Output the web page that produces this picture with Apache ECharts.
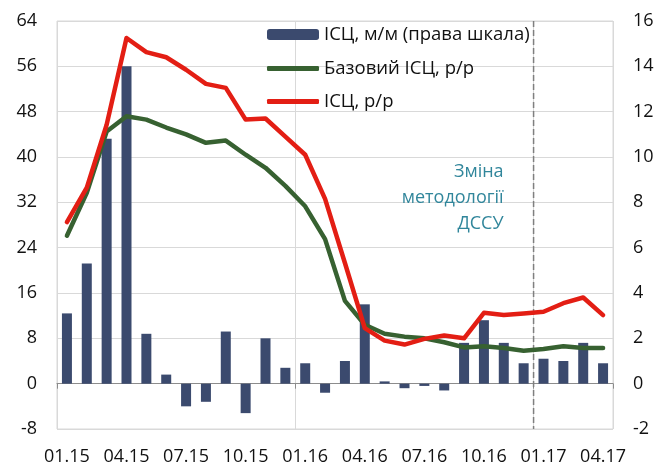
<!DOCTYPE html>
<html><head><meta charset="utf-8">
<script src="https://cdn.jsdelivr.net/npm/echarts@6/dist/echarts.min.js"></script>
<style>html,body{margin:0;padding:0;background:#fff}#c{width:657px;height:466px}</style>
</head><body><div id="c"></div>
<script>
const categories = ['01.15','02.15','03.15','04.15','05.15','06.15','07.15','08.15','09.15','10.15','11.15','12.15',
  '01.16','02.16','03.16','04.16','05.16','06.16','07.16','08.16','09.16','10.16','11.16','12.16',
  '01.17','02.17','03.17','04.17'];
const cpiMoM = [3.1,5.3,10.8,14.0,2.2,0.4,-1.0,-0.8,2.3,-1.3,2.0,0.7,0.9,-0.4,1.0,3.5,0.1,-0.2,-0.1,-0.3,1.8,2.8,1.8,0.9,1.1,1.0,1.8,0.9];
const coreYoY = [26.1,33.7,44.5,47.2,46.6,45.2,44.0,42.5,42.9,40.4,38.1,34.9,31.3,25.5,14.6,10.4,8.8,8.3,8.0,7.3,6.4,6.6,6.3,5.8,6.1,6.6,6.3,6.3];
const cpiYoY = [28.5,34.6,45.7,61.0,58.5,57.6,55.4,52.9,52.2,46.6,46.8,43.6,40.4,32.6,21.3,9.8,7.6,6.9,7.9,8.5,8.0,12.5,12.1,12.4,12.7,14.2,15.2,12.1];
const leftAxis = {min:-8, max:64, interval:8};
const rightAxis = {min:-2, max:16, interval:2};
const seriesNames = ['ІСЦ, м/м (права шкала)','Базовий ІСЦ, р/р','ІСЦ, р/р'];
const methodNote = 'Зміна\nметодології\nДССУ';
const methodChangeBetween = ['12.16','01.17'];

const FONT = 'Open Sans';
const chart = echarts.init(document.getElementById('c'));
const legendText = {fontFamily: FONT, fontSize: 18.5, color: '#111'};
const option = {
  animation: false,
  textStyle: {fontFamily: FONT},
  grid: {left: 57, right: 44, top: 21, bottom: 35, show: true, borderColor: '#d9d9d9', borderWidth: 1},
  legend: [
    {data: [seriesNames[0]], left: 267, top: 25, itemWidth: 52, itemHeight: 11, textStyle: legendText, padding: 0},
    {data: [{name: seriesNames[1], icon: 'roundRect'}], left: 267, top: 59, itemWidth: 52, itemHeight: 5,
     textStyle: legendText, padding: 0},
    {data: [{name: seriesNames[2], icon: 'roundRect'}], left: 267, top: 92, itemWidth: 52, itemHeight: 5,
     textStyle: legendText, padding: 0}
  ],
  xAxis: [
    {type: 'category', data: categories, boundaryGap: true,
     axisLine: {show: false}, axisTick: {show: false},
     axisLabel: {interval: 2, margin: 19, fontSize: 18, color: '#111', fontFamily: FONT},
     splitLine: {show: true, interval: 11, lineStyle: {color: '#d9d9d9', width: 1}}},
    {type: 'category', data: categories, boundaryGap: true, position: 'top',
     axisLine: {show: true, onZero: true, onZeroAxisIndex: 0, lineStyle: {color: '#8c8c8c', width: 1}},
     axisTick: {show: true, interval: 11, inside: true, length: 5, lineStyle: {color: '#8c8c8c'}},
     axisLabel: {show: false}, splitLine: {show: false}}
  ],
  yAxis: [
    {type: 'value', min: leftAxis.min, max: leftAxis.max, interval: leftAxis.interval,
     axisLine: {show: false}, axisTick: {show: false},
     axisLabel: {margin: 20, fontSize: 18, color: '#111', fontFamily: FONT},
     splitLine: {lineStyle: {color: '#d9d9d9', width: 1}}},
    {type: 'value', min: rightAxis.min, max: rightAxis.max, interval: rightAxis.interval,
     axisLine: {show: false}, axisTick: {show: false},
     axisLabel: {margin: 20, fontSize: 18, color: '#111', fontFamily: FONT},
     splitLine: {show: false}}
  ],
  series: [
    {name: seriesNames[0], type: 'bar', yAxisIndex: 1, data: cpiMoM, barWidth: 10,
     itemStyle: {color: '#3b4a6e'}, z: 2},
    {name: seriesNames[1], type: 'line', yAxisIndex: 0, data: coreYoY, symbol: 'none',
     lineStyle: {color: '#376131', width: 4.5, cap: 'round', join: 'round'}, itemStyle: {color: '#376131'}, z: 3},
    {name: seriesNames[2], type: 'line', yAxisIndex: 0, data: cpiYoY, symbol: 'none',
     lineStyle: {color: '#e31e14', width: 4.5, cap: 'round', join: 'round'}, itemStyle: {color: '#e31e14'}, z: 4}
  ]
};
chart.setOption(option);
const xa = chart.convertToPixel({xAxisIndex: 0}, methodChangeBetween[0]);
const xb = chart.convertToPixel({xAxisIndex: 0}, methodChangeBetween[1]);
const xm = (xa + xb) / 2;
const yTop = chart.convertToPixel({yAxisIndex: 0}, leftAxis.max);
const yBot = chart.convertToPixel({yAxisIndex: 0}, leftAxis.min);
chart.setOption({
  graphic: [
    {type: 'line', z: 1, shape: {x1: xm, y1: yTop, x2: xm, y2: yBot},
     style: {stroke: '#7f7f7f', lineWidth: 1.5, lineDash: [6, 3]}},
    {type: 'text', z: 5, x: xm - 30, y: 198,
     style: {text: methodNote, align: 'right', verticalAlign: 'middle', lineHeight: 26,
             fontFamily: FONT, fontSize: 18, fill: '#31869b'}}
  ]
});
</script></body></html>
